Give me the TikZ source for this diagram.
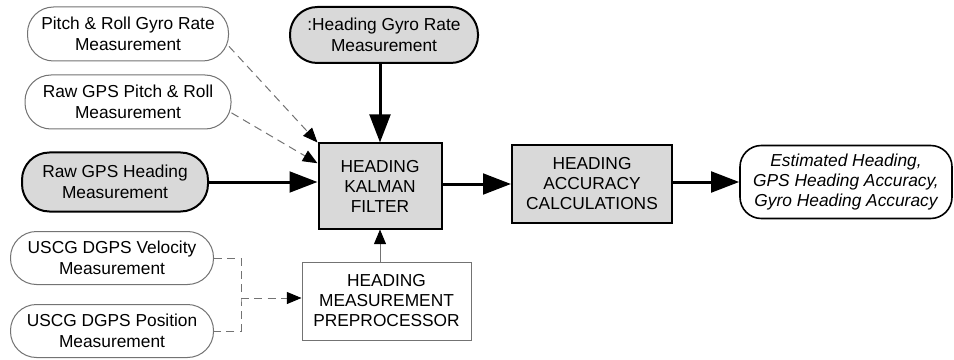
\documentclass[tikz,border=0pt]{standalone}
\usepackage{fontspec}
\setmainfont{Liberation Sans}
\usepackage[table]{xcolor}
\usetikzlibrary{calc}
\usetikzlibrary{positioning}
\usetikzlibrary{arrows.meta}
\definecolor{fillgray}{gray}{0.85}
\definecolor{linegray}{gray}{0.45}

\begin{document}
\begin{tikzpicture}[x=0.75pt, y=-0.75pt,
    every node/.style={font=\fontsize{13pt}{15pt}\selectfont, align=center, inner sep=0pt},
    inbox/.style={rectangle, rounded corners=19.5pt, draw=linegray, line width=0.75pt, fill=white, minimum height=40.5pt, font=\fontsize{13pt}{15.75pt}\selectfont},
    keybox/.style={rectangle, rounded corners=20.5pt, draw=black, line width=1.5pt, fill=fillgray, minimum height=43pt, font=\fontsize{13pt}{15.75pt}\selectfont},
    stepbox/.style={rectangle, draw=black, line width=1.5pt, fill=fillgray},
    bigarrow/.style={line width=2.25pt, -{Triangle[length=21pt,width=15.5pt]}},
    dashline/.style={draw=linegray, line width=0.75pt, dash pattern=on 6pt off 4pt},
    dasharrow/.style={dashline, -{Triangle[length=11pt,width=9pt,color=black]}},
    thinarrow/.style={draw=linegray, line width=0.75pt, -{Triangle[length=11pt,width=9pt,color=black]}}]
    \useasboundingbox (0,0) rectangle (954,360);

    \node [inbox, minimum width=150.75pt] (prgyro) at (128,34) {Pitch \& Roll Gyro Rate\\Measurement};
    \node [inbox, minimum width=154.5pt] (gpspr) at (128,102) {Raw GPS Pitch \& Roll\\Measurement};
    \node [keybox, minimum width=139.5pt, minimum height=44.25pt] (gpshead) at (115,182) {Raw GPS Heading\\Measurement};
    \node [inbox, minimum width=152.25pt, minimum height=39.75pt] (uvel) at (112,258) {USCG DGPS Velocity\\Measurement};
    \node [inbox, minimum width=152.25pt, minimum height=39.75pt] (upos) at (112,331) {USCG DGPS Position\\Measurement};
    \node [keybox, minimum width=141pt, minimum height=42pt] (gyrohead) at (384,35) {:Heading Gyro Rate\\Measurement};
    \node [stepbox, minimum width=92.25pt, minimum height=63.75pt] (kalman) at (380,186) {HEADING\\KALMAN\\FILTER};
    \node [stepbox, minimum width=120pt, minimum height=58.5pt] (accuracy) at (592,184) {HEADING\\ACCURACY\\CALCULATIONS};
    \node [rectangle, rounded corners=16pt, draw=black, line width=1.2pt, fill=white, minimum width=159pt, minimum height=54.75pt, font=\fontsize{13pt}{15pt}\selectfont\itshape] (output) at (846,182) {Estimated Heading,\\GPS Heading Accuracy,\\Gyro Heading Accuracy};
    \node [rectangle, draw=linegray, line width=0.75pt, fill=white, minimum width=126.75pt, minimum height=58.5pt] (prep) at (386.5,301) {HEADING\\MEASUREMENT\\PREPROCESSOR};
    \coordinate (join) at (241,298);

    \draw [bigarrow] (gyrohead.south -| kalman.north) -- (kalman.north);
    \draw [bigarrow] (gpshead.east) -- (gpshead.east -| kalman.west);
    \draw [dasharrow] (prgyro.-7) -- (kalman.north west);
    \draw [dasharrow] (gpspr.-6) -- (kalman.160);
    \draw [bigarrow] (kalman.east |- accuracy.west) -- (accuracy.west);
    \draw [bigarrow] (accuracy.east |- output.west) -- (output.west);
    \draw [thinarrow] (prep.north -| kalman.south) -- (kalman.south);
    \draw [dashline] (uvel.east) -| (join) |- (upos.east);
    \draw [dasharrow] (join) -- (join -| prep.west);
\end{tikzpicture}
\end{document}
